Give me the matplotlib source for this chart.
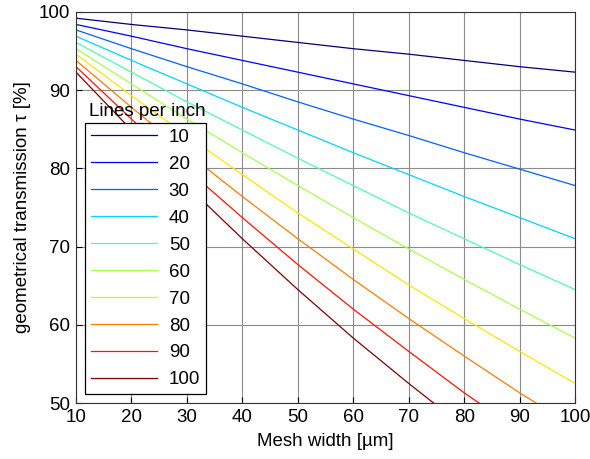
import matplotlib
matplotlib.use("Agg")
import matplotlib.pyplot as plt
import numpy as np

plt.rcParams["font.family"] = ["Liberation Sans", "DejaVu Sans"]

# -------------------------
# data
# -------------------------
mesh_width = [10, 20, 30, 40, 50, 60, 70, 80, 90, 100]
lines_per_inch = [10, 20, 30, 40, 50, 60, 70, 80, 90, 100]

t10 = [99.2, 98.4, 97.7, 96.9, 96.1, 95.3, 94.6, 93.8, 93.0, 92.3]
t20 = [98.4, 96.9, 95.3, 93.8, 92.3, 90.8, 89.3, 87.8, 86.3, 84.9]
t30 = [97.7, 95.3, 93.0, 90.8, 88.5, 86.3, 84.2, 82.0, 79.9, 77.8]
t40 = [96.9, 93.8, 90.8, 87.8, 84.9, 82.0, 79.2, 76.4, 73.7, 71.0]
t50 = [96.1, 92.3, 88.5, 84.9, 81.3, 77.8, 74.3, 71.0, 67.7, 64.5]
t60 = [95.3, 90.8, 86.3, 82.0, 77.8, 73.7, 69.7, 65.8, 62.0, 58.3]
t70 = [94.6, 89.3, 84.2, 79.2, 74.3, 69.7, 65.1, 60.8, 56.6, 52.5]
t80 = [93.8, 87.8, 82.0, 76.4, 71.0, 65.8, 60.8, 56.0, 51.3, 46.9]
t90 = [93.0, 86.3, 79.9, 73.7, 67.7, 62.0, 56.6, 51.3, 46.4, 41.7]
t100 = [92.3, 84.9, 77.8, 71.0, 64.5, 58.3, 52.5, 46.9, 41.7, 36.8]
series = [t10, t20, t30, t40, t50, t60, t70, t80, t90, t100]

colors = plt.cm.jet(np.linspace(0, 1, len(series)))

FS = 13.5

# -------------------------
# plot
# -------------------------
fig = plt.figure(figsize=(5.9, 4.59), dpi=100)
ax = fig.add_axes([0.1288, 0.122, 0.846, 0.852])

for lpi, vals, c in zip(lines_per_inch, series, colors):
    ax.plot(mesh_width, vals, color=c, lw=0.9, label=str(lpi))

ax.set_xlim(10, 100)
ax.set_ylim(50, 100)
ax.set_xticks(range(10, 101, 10))
ax.set_yticks(range(50, 101, 10))
ax.grid(True, color="#8c8c8c", lw=0.8)
ax.set_axisbelow(True)
ax.tick_params(direction="in", length=4, labelsize=FS, colors="black", pad=4)
for s in ax.spines.values():
    s.set_color("#333333")
    s.set_linewidth(0.8)

ax.set_xlabel("Mesh width [µm]", fontsize=FS, labelpad=5)
ax.set_ylabel("geometrical transmission τ [%]", fontsize=FS, labelpad=6)

leg = ax.legend(loc="upper left", bbox_to_anchor=(0.018, 0.716), borderaxespad=0,
                fontsize=FS, labelspacing=0.525, handlelength=3.55, handletextpad=0.62,
                borderpad=0.3, fancybox=False, framealpha=1, edgecolor="black")
leg.get_frame().set_linewidth(0.9)
ax.text(0.142, 0.746, "Lines per inch", transform=ax.transAxes,
        ha="center", va="center", fontsize=FS, zorder=10)

fig.savefig("out.png", dpi=100)
